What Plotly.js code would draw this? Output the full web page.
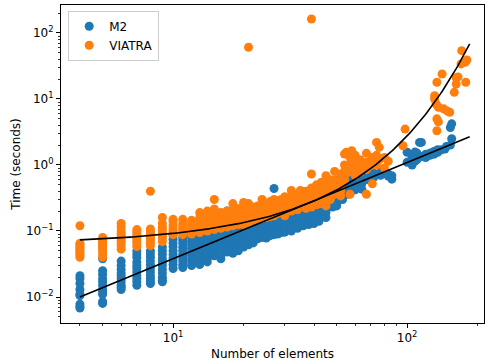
<!DOCTYPE html>
<html>
<head>
<meta charset="utf-8">
<script src="https://cdn.plot.ly/plotly-3.0.1.min.js"></script>
<style>
  html, body { margin: 0; padding: 0; background: #ffffff; }
  #chart { width: 485px; height: 364px; }
</style>
</head>
<body>
<div id="chart"></div>
<script>
// ---- Data ----
// M2: number of elements (x) and run times in seconds (one list per x value)
const m2X = [4,5,6,7,8,9,10,11,12,13,14,15,16,17,18,19,20,21,22,23,24,25,26,27,28,29,30,32,34,36,38,40,42,45,48,50,53,56,60,64,68,72,77,83,86,100,105,108,110,113,115,120,125,130,135,140,145,147,153,155];
const m2Y = [
  [0.021,0.019,0.016,0.013,0.011,0.0105,0.0078,0.0072,0.0068],
  [0.038,0.025,0.022,0.019,0.017,0.015,0.013,0.012,0.011,0.0085,0.008],
  [0.035,0.03,0.026,0.023,0.021,0.019,0.017,0.015,0.014,0.013],
  [0.05,0.045,0.04,0.034,0.03,0.027,0.024,0.021,0.019,0.017,0.015],
  [0.05,0.045,0.04,0.035,0.031,0.027,0.024,0.021,0.019,0.017,0.016],
  [0.057,0.05,0.044,0.038,0.034,0.03,0.026,0.023,0.02,0.018,0.017],
  [0.085,0.075,0.066,0.058,0.05,0.044,0.039,0.035,0.031,0.027],
  [0.08,0.072,0.064,0.056,0.05,0.044,0.039,0.035,0.031,0.028],
  [0.09,0.08,0.07,0.062,0.055,0.048,0.043,0.038,0.034,0.03],
  [0.095,0.084,0.074,0.065,0.057,0.05,0.045,0.04,0.035,0.031],
  [0.1,0.09,0.08,0.07,0.062,0.055,0.048,0.043,0.038,0.034],
  [0.11,0.097,0.086,0.076,0.067,0.06,0.053,0.047,0.042],
  [0.12,0.1,0.09,0.08,0.07,0.062,0.055,0.049,0.043,0.038],
  [0.2,0.14,0.12,0.1,0.09,0.08,0.07,0.062,0.055,0.048],
  [0.15,0.13,0.11,0.1,0.088,0.078,0.068,0.06,0.052,0.046],
  [0.16,0.14,0.12,0.105,0.092,0.082,0.072,0.063,0.055,0.05],
  [0.18,0.15,0.13,0.115,0.1,0.088,0.078,0.068,0.06,0.057],
  [0.2,0.17,0.14,0.12,0.1,0.09,0.08,0.07,0.062],
  [0.22,0.18,0.15,0.13,0.11,0.095,0.085,0.075,0.066],
  [0.2,0.17,0.15,0.13,0.11,0.1,0.088,0.076],
  [0.23,0.19,0.16,0.14,0.12,0.105,0.092,0.08],
  [0.22,0.19,0.16,0.14,0.12,0.1,0.09,0.078],
  [0.24,0.2,0.17,0.15,0.13,0.11,0.095,0.085],
  [0.44,0.25,0.21,0.18,0.15,0.13,0.115,0.1,0.088],
  [0.26,0.22,0.19,0.16,0.14,0.12,0.1,0.09],
  [0.27,0.23,0.2,0.17,0.15,0.13,0.11,0.095],
  [0.28,0.24,0.21,0.18,0.15,0.13,0.11,0.096],
  [0.3,0.26,0.22,0.19,0.16,0.14,0.12,0.1],
  [0.32,0.27,0.23,0.2,0.17,0.15,0.12,0.11],
  [0.34,0.29,0.25,0.21,0.18,0.16,0.13,0.12],
  [0.36,0.3,0.26,0.22,0.19,0.16,0.14,0.125],
  [0.39,0.33,0.28,0.24,0.2,0.17,0.15,0.13],
  [0.4,0.34,0.29,0.25,0.21,0.18,0.16,0.14],
  [0.5,0.42,0.36,0.3,0.26,0.22,0.19,0.16],
  [0.55,0.45,0.38,0.32,0.27,0.23],
  [0.58,0.48,0.39,0.33,0.3,0.26,0.24],
  [0.5,0.42,0.36,0.3],
  [0.6,0.5,0.43,0.36],
  [0.55,0.48,0.42],
  [0.65,0.52,0.43],
  [0.7,0.6],
  [0.75,0.65],
  [0.78,0.7],
  [0.73,0.68],
  [0.61,0.69],
  [1.56,1.1],
  [1.3,1.0],
  [1.57,1.15],
  [1.52,1.2],
  [2.2],
  [2.2,1.35],
  [1.3,1.45],
  [1.5,1.4],
  [1.6,1.45],
  [1.55,1.7],
  [1.7],
  [1.75],
  [1.9],
  [3.7,2.0],
  [4.2,2.5]
];

// VIATRA: number of elements (x) and run times in seconds
const viaX = [4,5,6,7,8,9,10,11,12,13,14,15,16,17,18,19,20,21,22,23,24,25,26,27,28,29,30,32,34,35,37,39,41,43,45,47,49,52,54,55,57,58,60,63,67,71,74,76,80,83,96,98,131,133,134,136,141,143,148,152,159,162,165,170,171,177,178,180];
const viaY = [
  [0.12,0.065,0.062,0.058,0.055,0.052,0.049,0.046,0.043,0.04],
  [0.08,0.075,0.07,0.066,0.062,0.058,0.054,0.05,0.045,0.04],
  [0.13,0.115,0.1,0.092,0.085,0.078,0.072,0.066,0.06,0.053],
  [0.105,0.097,0.09,0.083,0.077,0.07,0.064,0.058],
  [0.4,0.107,0.1,0.092,0.085,0.078,0.072,0.066,0.06],
  [0.16,0.13,0.115,0.105,0.097,0.09,0.083,0.076,0.069],
  [0.15,0.14,0.125,0.115,0.105,0.098,0.092,0.088],
  [0.15,0.13,0.12,0.11,0.1,0.095,0.088],
  [0.145,0.13,0.12,0.11,0.1,0.095,0.09],
  [0.19,0.16,0.14,0.13,0.12,0.11,0.1,0.095],
  [0.2,0.17,0.15,0.135,0.125,0.115,0.105,0.1],
  [0.3,0.215,0.18,0.16,0.14,0.13,0.12,0.11,0.105],
  [0.19,0.17,0.155,0.14,0.13,0.12,0.11],
  [0.2,0.18,0.16,0.145,0.135,0.125,0.115],
  [0.26,0.21,0.18,0.16,0.15,0.14,0.13,0.12],
  [0.22,0.19,0.17,0.155,0.145,0.135,0.125],
  [0.27,0.22,0.19,0.17,0.155,0.145,0.135,0.125],
  [60.7,0.26,0.22,0.19,0.17,0.16,0.15,0.14,0.13],
  [0.23,0.2,0.18,0.165,0.155,0.145],
  [0.24,0.21,0.19,0.17,0.16,0.15],
  [0.3,0.25,0.22,0.195,0.175,0.165,0.155],
  [0.26,0.23,0.2,0.18,0.17,0.16],
  [0.28,0.24,0.21,0.19,0.175,0.165],
  [0.3,0.25,0.22,0.2,0.18,0.17],
  [0.29,0.26,0.23,0.2,0.185],
  [0.3,0.27,0.24,0.21,0.19],
  [0.33,0.28,0.25,0.22,0.19,0.17],
  [0.41,0.33,0.29,0.25,0.22,0.2],
  [0.36,0.31,0.27,0.24,0.21],
  [0.41,0.34,0.3],
  [0.4,0.33,0.28,0.24,0.22],
  [163,0.73,0.45,0.36,0.3,0.26,0.23],
  [0.5,0.4,0.33,0.28,0.25],
  [0.55,0.44,0.36,0.3,0.26],
  [0.69,0.5,0.4,0.33,0.28,0.24],
  [0.6,0.48,0.38,0.3],
  [0.8,0.6,0.45,0.36],
  [0.73,0.6,0.48,0.4,0.34],
  [1.47,1.0,0.8,0.6],
  [1.56,0.97,0.75],
  [1.3,1.0,0.8,0.36],
  [1.65,1.2,0.9],
  [1.4,1.1,0.85,0.7],
  [1.2,0.95,0.78],
  [1.5,1.1,0.85,0.36],
  [1.3,1.0,0.52],
  [2.2,1.4,1.0],
  [1.85,1.2],
  [1.3,0.9],
  [1.14],
  [1.96],
  [3.5],
  [11.2,10],
  [8.4],
  [17.9,5,3.3],
  [7.5,4.5],
  [23.9],
  [7.1],
  [6.6],
  [6.3],
  [12.6],
  [21,16.9],
  [21.6],
  [34],
  [54],
  [36],
  [17.9],
  [39]
];

// Fitted curves (parameters)
const m2Fit = [0.01, 4, 1.458];     // y = a * (x / x0)^k  (straight line in log-log)
const viaFit = [0.063, 0.0378];     // y = a * exp(b * x)
const fitRange = [4, 185];

// ---- Build traces ----
function flatten(xs, ys) {
  const fx = [], fy = [];
  xs.forEach((x, i) => ys[i].forEach(v => { fx.push(x); fy.push(v); }));
  return [fx, fy];
}
const [m2Fx, m2Fy] = flatten(m2X, m2Y);
const [viaFx, viaFy] = flatten(viaX, viaY);

const fitXs = [];
for (let i = 0; i <= 200; i++) {
  fitXs.push(fitRange[0] * Math.pow(fitRange[1] / fitRange[0], i / 200));
}
const m2FitY = fitXs.map(x => m2Fit[0] * Math.pow(x / m2Fit[1], m2Fit[2]));
const viaFitY = fitXs.map(x => viaFit[0] * Math.exp(viaFit[1] * x));

const blue = '#1f77b4', orange = '#ff7f0e';
const traces = [
  { x: m2Fx, y: m2Fy, type: 'scatter', mode: 'markers', name: 'M2',
    marker: { color: blue, size: 9, line: { width: 0 } } },
  { x: viaFx, y: viaFy, type: 'scatter', mode: 'markers', name: 'VIATRA',
    marker: { color: orange, size: 9, line: { width: 0 } } },
  { x: fitXs, y: viaFitY, type: 'scatter', mode: 'lines', showlegend: false,
    line: { color: 'black', width: 1.6 } },
  { x: fitXs, y: m2FitY, type: 'scatter', mode: 'lines', showlegend: false,
    line: { color: 'black', width: 1.6 } }
];

const font = { family: 'DejaVu Sans, sans-serif', size: 12, color: 'black' };
const layout = {
  width: 485, height: 364,
  margin: { l: 61, r: 1, t: 5, b: 41 },
  paper_bgcolor: 'white', plot_bgcolor: 'white',
  font: font,
  showlegend: true,
  legend: {
    x: 0.017, y: 0.982, xanchor: 'left', yanchor: 'top',
    bgcolor: 'rgba(255,255,255,0.8)', bordercolor: '#cccccc', borderwidth: 1,
    font: font, itemwidth: 30, tracegroupgap: 0
  },
  xaxis: {
    type: 'log', range: [Math.log10(3.32), Math.log10(213)],
    showline: true, linecolor: 'black', linewidth: 1, mirror: true,
    showgrid: false, zeroline: false,
    ticks: 'outside', ticklen: 4, tickwidth: 1, tickcolor: 'black',
    tickmode: 'array', tickvals: [10, 100],
    ticktext: ['10<sup>1</sup>', '10<sup>2</sup>'],
    tickfont: font,
    minor: { ticks: 'outside', ticklen: 2, tickwidth: 0.8, tickcolor: 'black', dtick: 'D1', showgrid: false },
    title: { text: 'Number of elements', font: font, standoff: 5 }
  },
  yaxis: {
    type: 'log', range: [-2.394, 2.424],
    showline: true, linecolor: 'black', linewidth: 1, mirror: true,
    showgrid: false, zeroline: false,
    ticks: 'outside', ticklen: 4, tickwidth: 1, tickcolor: 'black',
    tickmode: 'array', tickvals: [0.01, 0.1, 1, 10, 100],
    ticktext: ['10<sup>\u22122</sup>', '10<sup>\u22121</sup>', '10<sup>0</sup>', '10<sup>1</sup>', '10<sup>2</sup>'],
    tickfont: font,
    minor: { ticks: 'outside', ticklen: 2, tickwidth: 0.8, tickcolor: 'black', dtick: 'D1', showgrid: false },
    title: { text: 'Time (seconds)', font: font, standoff: 2 }
  }
};

Plotly.newPlot('chart', traces, layout, { displayModeBar: false, staticPlot: true });
</script>
</body>
</html>
